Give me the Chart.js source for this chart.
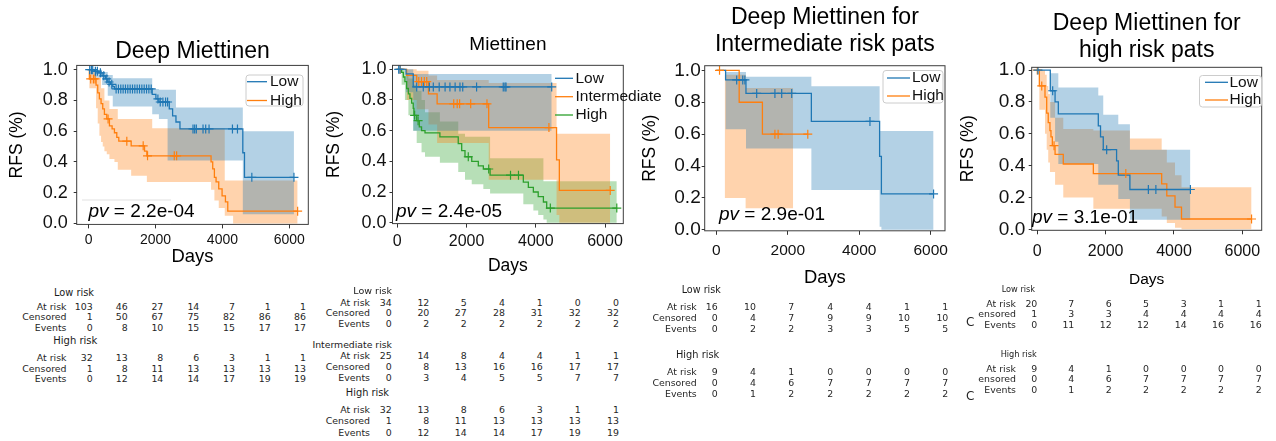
<!DOCTYPE html>
<html>
<head>
<meta charset="utf-8">
<title>RFS Kaplan-Meier panels</title>
<script src="https://cdn.jsdelivr.net/npm/chart.js@4.4.1/dist/chart.umd.min.js"></script>
<style>
  html, body { margin: 0; padding: 0; background: #fff; }
  #fig { position: relative; width: 1276px; height: 441px; overflow: hidden; background: #fff; }
  #fig canvas { position: absolute; top: 0; }
  .t { position: absolute; white-space: nowrap; line-height: 1; font-family: "DejaVu Sans", sans-serif; color: #262626; }
</style>
</head>
<body>
<div id="fig"></div>
<script>
// Four Kaplan-Meier panels (RFS) with at-risk tables underneath.

const SANS = '"Liberation Sans", Arial, Helvetica, sans-serif';
const C_BLUE = '#1f77b4', C_ORANGE = '#ff7f0e', C_GREEN = '#2ca02c';

// ---- labels ----
const panelTitles = [['Deep Miettinen'], ['Miettinen'], ['Deep Miettinen for', 'Intermediate risk pats'], ['Deep Miettinen for', 'high risk pats']];
const pvLabels = ['2.2e-04', '2.4e-05', '2.9e-01', '3.1e-01'];
const xTicks = [0, 2000, 4000, 6000];
const yTicks = [0, 0.2, 0.4, 0.6, 0.8, 1.0];
const rowLabels = ['At risk', 'Censored', 'Events'];

// ---- panel 1: Deep Miettinen ----
const p1LowT = [0, 170, 300, 400, 500, 570, 650, 720, 770, 1900, 2010, 2100, 2410, 2510, 2610, 2730, 4610, 4660, 6140];
const p1LowS = [1.0, 0.99, 0.98, 0.96, 0.94, 0.92, 0.905, 0.89, 0.875, 0.84, 0.81, 0.79, 0.745, 0.70, 0.66, 0.615, 0.46, 0.30, 0.30];
const p1LowCens = [30, 80, 120, 200, 260, 350, 450, 540, 610, 690, 820, 890, 960, 1030, 1100, 1170, 1240, 1310, 1380, 1450, 1520, 1590, 1660, 1730, 1800, 1870, 2070, 2140, 2220, 2300, 2360, 3120, 3170, 3220, 3420, 3500, 3600, 4300, 4450, 4880, 6140];
const p1LowCiT = [0, 170, 400, 570, 720, 1900, 2100, 2360, 2610, 4610, 6140];
const p1LowCiU = [1.0, 1.0, 0.985, 0.965, 0.945, 0.875, 0.87, 0.87, 0.755, 0.60, 0.60];
const p1LowCiL = [1.0, 0.95, 0.90, 0.83, 0.76, 0.71, 0.68, 0.41, 0.41, 0.06, 0.06];

const p1HighT = [0, 20, 220, 270, 320, 370, 420, 470, 540, 620, 700, 770, 840, 900, 1270, 1670, 1740, 3660, 3710, 3760, 3810, 3890, 3990, 4090, 4160, 6250];
const p1HighS = [1.0, 0.94, 0.90, 0.85, 0.81, 0.78, 0.745, 0.71, 0.68, 0.635, 0.615, 0.59, 0.56, 0.535, 0.505, 0.47, 0.44, 0.40, 0.355, 0.30, 0.27, 0.225, 0.18, 0.14, 0.08, 0.08];
const p1HighCens = [60, 140, 190, 580, 1140, 1630, 1760, 2560, 2630, 6250];
const p1HighCiT = [0, 20, 220, 270, 320, 370, 420, 470, 540, 620, 770, 870, 1270, 1740, 1900, 3660, 3760, 3890, 4070, 4320, 6250];
const p1HighCiU = [1.0, 1.0, 0.95, 0.95, 0.95, 0.88, 0.88, 0.80, 0.80, 0.745, 0.745, 0.68, 0.68, 0.68, 0.62, 0.62, 0.62, 0.62, 0.28, 0.28, 0.28];
const p1HighCiL = [1.0, 0.88, 0.75, 0.65, 0.57, 0.53, 0.50, 0.47, 0.45, 0.42, 0.40, 0.35, 0.31, 0.27, 0.27, 0.22, 0.15, 0.10, 0.05, 0.0, 0.0];

// ---- panel 2: Miettinen ----
const p2LowT = [0, 250, 460, 4460];
const p2LowS = [1.0, 0.97, 0.885, 0.885];
const p2LowCens = [40, 80, 560, 750, 925, 1040, 1210, 1380, 1520, 1670, 1810, 1890, 2290, 3060, 3110, 3140, 4460];
const p2LowCiT = [0, 250, 460, 4460];
const p2LowCiU = [1.0, 1.0, 0.97, 0.97];
const p2LowCiL = [1.0, 0.85, 0.60, 0.60];

const p2IntT = [0, 270, 560, 900, 1150, 2640, 4600, 4680, 6150];
const p2IntS = [1.0, 0.96, 0.92, 0.84, 0.775, 0.62, 0.41, 0.21, 0.21];
const p2IntCens = [80, 620, 700, 780, 850, 1630, 1730, 1800, 2120, 2590, 4380, 6150];
const p2IntCiT = [0, 270, 560, 900, 1150, 2640, 4600, 4680, 6150];
const p2IntCiU = [1.0, 1.0, 0.99, 0.96, 0.93, 0.91, 0.58, 0.58, 0.58];
const p2IntCiL = [1.0, 0.80, 0.74, 0.64, 0.52, 0.28, 0.05, 0.0, 0.0];

const p2HighT = [0, 125, 175, 220, 270, 320, 365, 415, 460, 480, 560, 635, 700, 800, 1230, 1760, 1860, 1955, 2150, 2340, 2485, 2680, 3640, 3785, 3930, 4070, 4220, 4315, 6340];
const p2HighS = [1.0, 0.98, 0.95, 0.92, 0.875, 0.84, 0.81, 0.78, 0.745, 0.70, 0.665, 0.625, 0.60, 0.585, 0.56, 0.515, 0.47, 0.43, 0.40, 0.37, 0.35, 0.31, 0.265, 0.23, 0.20, 0.17, 0.135, 0.095, 0.095];
const p2HighCens = [500, 600, 2050, 2640, 3270, 3500, 4420, 6340];
const p2HighCiT = [0, 125, 220, 320, 460, 560, 700, 800, 1230, 1760, 1955, 2150, 2485, 2680, 3640, 3930, 4070, 4220, 4315, 6340];
const p2HighCiU = [1.0, 1.0, 0.97, 0.94, 0.90, 0.86, 0.80, 0.72, 0.66, 0.58, 0.56, 0.56, 0.56, 0.42, 0.42, 0.42, 0.42, 0.27, 0.27, 0.27];
const p2HighCiL = [1.0, 0.90, 0.80, 0.70, 0.60, 0.52, 0.46, 0.43, 0.39, 0.33, 0.28, 0.25, 0.22, 0.19, 0.12, 0.08, 0.05, 0.02, 0.0, 0.0];

// ---- panel 3: intermediate risk patients ----
const p3LowT = [0, 260, 830, 2660, 4570, 4620, 6080];
const p3LowS = [1.0, 0.94, 0.855, 0.68, 0.46, 0.225, 0.225];
const p3LowCens = [570, 740, 800, 1130, 1640, 1830, 2110, 4300, 6080];
const p3LowCiT = [0, 260, 830, 2660, 4570, 4620, 6080];
const p3LowCiU = [1.0, 0.99, 0.96, 0.90, 0.62, 0.62, 0.62];
const p3LowCiL = [1.0, 0.63, 0.51, 0.25, 0.02, 0.0, 0.0];

const p3HighT = [0, 640, 1290, 2560];
const p3HighS = [1.0, 0.80, 0.60, 0.60];
const p3HighCens = [90, 1640, 1730, 2560];
const p3HighCiT = [0, 240, 820, 2150];
const p3HighCiU = [1.0, 0.973, 0.89, 0.89];
const p3HighCiL = [1.0, 0.20, 0.135, 0.135];

// ---- panel 4: high risk patients ----
const p4LowT = [0, 380, 520, 615, 1785, 1850, 1930, 2320, 2370, 2710, 4480];
const p4LowS = [1.0, 0.87, 0.80, 0.725, 0.65, 0.58, 0.50, 0.43, 0.34, 0.25, 0.25];
const p4LowCens = [20, 450, 2030, 3250, 3470, 4480];
const p4LowCiT = [0, 380, 520, 615, 1785, 1930, 2370, 2710, 4480];
const p4LowCiU = [1.0, 0.98, 0.98, 0.89, 0.84, 0.72, 0.66, 0.50, 0.50];
const p4LowCiL = [1.0, 0.70, 0.55, 0.41, 0.28, 0.28, 0.19, 0.06, 0.06];

const p4HighT = [0, 60, 225, 275, 320, 370, 400, 440, 520, 760, 1640, 3640, 3790, 4030, 4220, 6270];
const p4HighS = [1.0, 0.90, 0.83, 0.73, 0.67, 0.62, 0.58, 0.525, 0.47, 0.41, 0.35, 0.285, 0.21, 0.14, 0.065, 0.065];
const p4HighCens = [0, 130, 490, 2590, 6270];
const p4HighCiT = [0, 60, 225, 275, 320, 370, 520, 760, 1640, 2710, 3640, 3790, 4030, 4220, 6270];
const p4HighCiU = [1.0, 1.0, 0.97, 0.90, 0.85, 0.80, 0.70, 0.63, 0.62, 0.57, 0.50, 0.42, 0.34, 0.265, 0.265];
const p4HighCiL = [1.0, 0.75, 0.60, 0.50, 0.42, 0.36, 0.28, 0.20, 0.13, 0.13, 0.08, 0.04, 0.01, 0.0, 0.0];

// ---- at-risk tables ----
const p1LowAtRisk = [103, 46, 27, 14, 7, 1, 1], p1LowCensored = [1, 50, 67, 75, 82, 86, 86], p1LowEvents = [0, 8, 10, 15, 15, 17, 17];
const p1HighAtRisk = [32, 13, 8, 6, 3, 1, 1], p1HighCensored = [1, 8, 11, 13, 13, 13, 13], p1HighEvents = [0, 12, 14, 14, 17, 19, 19];
const p2LowAtRisk = [34, 12, 5, 4, 1, 0, 0], p2LowCensored = [0, 20, 27, 28, 31, 32, 32], p2LowEvents = [0, 2, 2, 2, 2, 2, 2];
const p2IntAtRisk = [25, 14, 8, 4, 4, 1, 1], p2IntCensored = [0, 8, 13, 16, 16, 17, 17], p2IntEvents = [0, 3, 4, 5, 5, 7, 7];
const p2HighAtRisk = [32, 13, 8, 6, 3, 1, 1], p2HighCensored = [1, 8, 11, 13, 13, 13, 13], p2HighEvents = [0, 12, 14, 14, 17, 19, 19];
const p3LowAtRisk = [16, 10, 7, 4, 4, 1, 1], p3LowCensored = [0, 4, 7, 9, 9, 10, 10], p3LowEvents = [0, 2, 2, 3, 3, 5, 5];
const p3HighAtRisk = [9, 4, 1, 0, 0, 0, 0], p3HighCensored = [0, 4, 6, 7, 7, 7, 7], p3HighEvents = [0, 1, 2, 2, 2, 2, 2];
const p4LowAtRisk = [20, 7, 6, 5, 3, 1, 1], p4LowCensored = [1, 3, 3, 4, 4, 4, 4], p4LowEvents = [0, 11, 12, 12, 14, 16, 16];
const p4HighAtRisk = [9, 4, 1, 0, 0, 0, 0], p4HighCensored = [0, 4, 6, 7, 7, 7, 7], p4HighEvents = [0, 1, 2, 2, 2, 2, 2];

// ---- helpers ----
const fig = document.getElementById('fig');
function km(T, S) { return T.map((t, i) => ({ x: t, y: S[i] })); }
function survAt(T, S, t) { let v = S[0]; T.forEach((tt, i) => { if (tt <= t) v = S[i]; }); return v; }
function alpha(hex, a) { const n = parseInt(hex.slice(1), 16); return `rgba(${n >> 16},${(n >> 8) & 255},${n & 255},${a})`; }

function buildDatasets(groups) {
  const marks = [], lines = [], bands = [];
  groups.forEach(g => {
    marks.push({ data: g.cens.map(t => ({ x: t, y: survAt(g.t, g.s, t) })), showLine: false,
      pointStyle: 'cross', pointRadius: 4.5, pointBorderColor: g.color, borderColor: g.color, pointBorderWidth: 1.2 });
    lines.push({ data: km(g.t, g.s), stepped: 'before', borderColor: g.color, borderWidth: 1.3, pointRadius: 0, fill: false });
    bands.push({ data: km(g.ciT, g.ciU), stepped: 'before', borderColor: 'rgba(0,0,0,0)', borderWidth: 0, pointRadius: 0,
      fill: '+1', backgroundColor: alpha(g.color, 0.34) });
    bands.push({ data: km(g.ciT, g.ciL), stepped: 'before', borderColor: 'rgba(0,0,0,0)', borderWidth: 0, pointRadius: 0, fill: false });
  });
  return [...marks, ...lines, ...bands];
}

// frame, legend and p-value text
const decor = {
  id: 'decor',
  afterDatasetsDraw(chart, args, o) {
    const { ctx, chartArea: a } = chart;
    const ox = o.ox;
    ctx.save();
    ctx.strokeStyle = '#3c3c3c'; ctx.lineWidth = 1;
    ctx.strokeRect(a.left, a.top, a.right - a.left, a.bottom - a.top);

    const L = o.legend;
    if (L.frame) {
      const f = L.frame;
      ctx.beginPath();
      ctx.roundRect(f.x - ox, f.y, f.w, f.h, 3);
      ctx.fillStyle = 'rgba(255,255,255,0.8)'; ctx.fill();
      ctx.strokeStyle = '#cccccc'; ctx.stroke();
    }
    ctx.font = `${L.size}px ${SANS}`; ctx.textBaseline = 'middle'; ctx.textAlign = 'left';
    o.groups.forEach((g, k) => {
      const y = L.rows[k];
      ctx.strokeStyle = g.color; ctx.lineWidth = 1.3;
      ctx.beginPath(); ctx.moveTo(L.x1 - ox, y); ctx.lineTo(L.x2 - ox, y); ctx.stroke();
      ctx.fillStyle = '#111'; ctx.fillText(g.name, L.tx - ox, y);
    });

    const P = o.pv;
    if (P.box) {
      ctx.fillStyle = 'rgba(255,255,255,0.8)'; ctx.strokeStyle = 'rgba(0,0,0,0.12)'; ctx.lineWidth = 1;
      ctx.fillRect(P.box.x - ox, P.box.y, P.box.w, P.box.h);
      ctx.beginPath(); ctx.moveTo(P.box.x - ox, P.box.y + 0.5); ctx.lineTo(P.box.x + P.box.w - ox, P.box.y + 0.5); ctx.stroke();
    }
    ctx.fillStyle = '#000';
    ctx.font = `italic ${P.size}px ${SANS}`;
    ctx.fillText('pv', P.x - ox, P.y);
    const w = ctx.measureText('pv').width;
    ctx.font = `${P.size}px ${SANS}`;
    ctx.fillText(' = ' + o.text, P.x - ox + w, P.y);
    ctx.restore();
  }
};

// ---- layout of the four panels ----
const panels = [
  { left: 0, w: 384, h: 270, padTop: 38.5, titleSize: 23, titleGap: 0, padRight: 75.7,
    xmin: -359, xmax: 6569, ymax: 1.028, yw: 76.7, xh: 45.6,
    xTickSize: 14, xTickPad: 3, yTickSize: 18, yTickPad: 6, xTitleSize: 18.4, xTitlePad: 2.2, yTitlePad: 7,
    groups: [
      { name: 'Low', color: C_BLUE, t: p1LowT, s: p1LowS, cens: p1LowCens, ciT: p1LowCiT, ciU: p1LowCiU, ciL: p1LowCiL },
      { name: 'High', color: C_ORANGE, t: p1HighT, s: p1HighS, cens: p1HighCens, ciT: p1HighCiT, ciU: p1HighCiU, ciL: p1HighCiL }],
    legend: { frame: { x: 246, y: 75, w: 57, h: 31 }, x1: 247, x2: 267, tx: 270, rows: [81.7, 100.5], size: 15.5 },
    pv: { x: 88.5, y: 211.5, size: 19, box: { x: 82, y: 199.5, w: 89, h: 24 } } },
  { left: 320, w: 358, h: 280, padTop: 33.9, titleSize: 19, titleGap: 9.2, padRight: 54.7,
    xmin: -139, xmax: 6528, ymax: 1.026, yw: 72.5, xh: 56.4,
    xTickSize: 16, xTickPad: 4, yTickSize: 18, yTickPad: 3, xTitleSize: 17.5, xTitlePad: 3.2, yTitlePad: 3.2,
    groups: [
      { name: 'Low', color: C_BLUE, t: p2LowT, s: p2LowS, cens: p2LowCens, ciT: p2LowCiT, ciU: p2LowCiU, ciL: p2LowCiL },
      { name: 'Intermediate', color: C_ORANGE, t: p2IntT, s: p2IntS, cens: p2IntCens, ciT: p2IntCiT, ciU: p2IntCiU, ciL: p2IntCiL },
      { name: 'High', color: C_GREEN, t: p2HighT, s: p2HighS, cens: p2HighCens, ciT: p2HighCiT, ciU: p2HighCiU, ciL: p2HighCiL }],
    legend: { frame: null, x1: 555, x2: 573, tx: 575.5, rows: [78.3, 96.7, 115], size: 15.5 },
    pv: { x: 396, y: 212, size: 19 } },
  { left: 638, w: 388, h: 292, padTop: 4.55, titleSize: 23, titleGap: 7.35, padRight: 81,
    xmin: -325, xmax: 6400, ymax: 1.029, yw: 66.7, xh: 61.2,
    xTickSize: 15.5, xTickPad: 7, yTickSize: 19, yTickPad: 1, xTitleSize: 18.4, xTitlePad: 3.2, yTitlePad: 1.2,
    groups: [
      { name: 'Low', color: C_BLUE, t: p3LowT, s: p3LowS, cens: p3LowCens, ciT: p3LowCiT, ciU: p3LowCiU, ciL: p3LowCiL },
      { name: 'High', color: C_ORANGE, t: p3HighT, s: p3HighS, cens: p3HighCens, ciT: p3HighCiT, ciU: p3HighCiU, ciL: p3HighCiL }],
    legend: { frame: { x: 883, y: 70.5, w: 60, h: 32.5 }, x1: 887, x2: 910, tx: 912, rows: [78, 96], size: 15.5 },
    pv: { x: 719, y: 214.5, size: 19 } },
  { left: 950, w: 326, h: 292, padTop: 9.85, titleSize: 23, titleGap: 3.65, padRight: 14.3,
    xmin: -164, xmax: 6567, ymax: 1.017, yw: 81.7, xh: 61.7,
    xTickSize: 16, xTickPad: 7.4, yTickSize: 19, yTickPad: 3.5, xTitleSize: 15.5, xTitlePad: 3.2, yTitlePad: 7.7,
    groups: [
      { name: 'Low', color: C_BLUE, t: p4LowT, s: p4LowS, cens: p4LowCens, ciT: p4LowCiT, ciU: p4LowCiU, ciL: p4LowCiL },
      { name: 'High', color: C_ORANGE, t: p4HighT, s: p4HighS, cens: p4HighCens, ciT: p4HighCiT, ciU: p4HighCiU, ciL: p4HighCiL }],
    legend: { frame: { x: 1199.5, y: 75.5, w: 62, h: 31.5 }, x1: 1205, x2: 1228, tx: 1229.5, rows: [82.3, 100], size: 15.5 },
    pv: { x: 1032, y: 218, size: 19 } }
];

function makePanel(p, i) {
  const cv = document.createElement('canvas');
  cv.width = p.w; cv.height = p.h;
  cv.style.left = p.left + 'px';
  cv.style.width = p.w + 'px'; cv.style.height = p.h + 'px';
  fig.appendChild(cv);
  const tickGrid = { drawOnChartArea: false, tickLength: 4, color: '#333' };
  new Chart(cv, {
    type: 'line',
    data: { datasets: buildDatasets(p.groups) },
    options: {
      responsive: false, animation: false, events: [],
      layout: { padding: { top: p.padTop, right: p.padRight, left: 0, bottom: 0 } },
      plugins: {
        legend: { display: false },
        tooltip: { enabled: false },
        title: { display: true, text: panelTitles[i], fullSize: false, color: '#000',
          font: { family: SANS, size: p.titleSize, weight: 'normal', lineHeight: 1.17 },
          padding: { top: 0, bottom: p.titleGap } },
        decor: { ox: p.left, groups: p.groups, legend: p.legend, pv: p.pv, text: pvLabels[i] }
      },
      scales: {
        x: {
          type: 'linear', min: p.xmin, max: p.xmax,
          afterFit: s => { s.height = p.xh; },
          afterBuildTicks: s => { s.ticks = xTicks.map(v => ({ value: v })); },
          ticks: { callback: v => String(v), color: '#111', font: { family: SANS, size: p.xTickSize },
            padding: p.xTickPad, maxRotation: 0, autoSkip: false },
          grid: tickGrid, border: { display: false },
          title: { display: true, text: 'Days', color: '#000', font: { family: SANS, size: p.xTitleSize },
            padding: { top: 0, bottom: p.xTitlePad } }
        },
        y: {
          type: 'linear', min: -0.006, max: p.ymax,
          afterFit: s => { s.width = p.yw; },
          afterBuildTicks: s => { s.ticks = yTicks.map(v => ({ value: v })); },
          ticks: { callback: v => v.toFixed(1), color: '#111', font: { family: SANS, size: p.yTickSize },
            padding: p.yTickPad, autoSkip: false },
          grid: { drawOnChartArea: false, tickLength: 3, color: '#333' }, border: { display: false },
          title: { display: true, text: 'RFS (%)', color: '#000', font: { family: SANS, size: 17.5 },
            padding: { top: p.yTitlePad, bottom: 0 } }
        }
      }
    },
    plugins: [decor]
  });
}
panels.forEach(makePanel);

// ---- at-risk tables (plain HTML text) ----
function addText(txt, x, y, size, align, opts) {
  const d = document.createElement('div');
  d.className = 't';
  d.textContent = txt;
  d.style.fontSize = size + 'px';
  d.style.top = (y - size * 0.5) + 'px';
  if (align === 'right') d.style.right = (1276 - x) + 'px'; else d.style.left = x + 'px';
  if (opts && opts.color) d.style.color = opts.color;
  fig.appendChild(d);
}

const tables = [
  { labelRight: 66.5, cols: [92.7, 127.7, 163.3, 199.3, 235, 270.7, 306], labels: rowLabels,
    groups: [
      { name: 'Low risk', nx: 54, ny: 292.7, nsize: 9.8, rows: [p1LowAtRisk, p1LowCensored, p1LowEvents], ys: [306.7, 316.7, 327.3] },
      { name: 'High risk', nx: 53.3, ny: 341, nsize: 10, rows: [p1HighAtRisk, p1HighCensored, p1HighEvents], ys: [357.7, 368.3, 378.3] }] },
  { labelRight: 370, cols: [391.7, 429.3, 466.7, 505, 542.7, 580.7, 619], labels: rowLabels,
    groups: [
      { name: 'Low risk', nr: 392, ny: 290.7, nsize: 9.5, rows: [p2LowAtRisk, p2LowCensored, p2LowEvents], ys: [302.3, 312.7, 323.3] },
      { name: 'Intermediate risk', nr: 392, ny: 345, nsize: 9.3, rows: [p2IntAtRisk, p2IntCensored, p2IntEvents], ys: [356, 366.7, 377.7] },
      { name: 'High risk', nr: 389, ny: 393.3, nsize: 9.8, rows: [p2HighAtRisk, p2HighCensored, p2HighEvents], ys: [410, 421, 432.3] }] },
  { labelRight: 696.7, cols: [717.7, 756, 794.3, 833.3, 871.7, 910, 948.3], labels: rowLabels,
    groups: [
      { name: 'Low risk', nx: 681.7, ny: 289.3, nsize: 9.6, rows: [p3LowAtRisk, p3LowCensored, p3LowEvents], ys: [306.7, 317.3, 328.3] },
      { name: 'High risk', nx: 676, ny: 355, nsize: 9.8, rows: [p3HighAtRisk, p3HighCensored, p3HighEvents], ys: [371.7, 382.3, 393.3] }] },
  { labelRight: 1016, cols: [1037.3, 1074.3, 1111.7, 1149, 1186.7, 1224, 1261.7], labels: ['At risk', 'ensored', 'Events'],
    extraC: [[966, 321.7], [966, 396]],
    groups: [
      { name: 'Low risk', nx: 1001.7, ny: 289.3, nsize: 8.2, rows: [p4LowAtRisk, p4LowCensored, p4LowEvents], ys: [303.3, 314, 324.3] },
      { name: 'High risk', nx: 1000.7, ny: 354, nsize: 8.2, rows: [p4HighAtRisk, p4HighCensored, p4HighEvents], ys: [368.3, 379, 389.3] }] }
];

tables.forEach(tb => {
  tb.groups.forEach(g => {
    if (g.nr !== undefined) addText(g.name, g.nr, g.ny, g.nsize, 'right', { color: '#1a1a1a' });
    else addText(g.name, g.nx, g.ny, g.nsize, 'left', { color: '#1a1a1a' });
    g.rows.forEach((vals, r) => {
      addText(tb.labels[r], tb.labelRight, g.ys[r], 9.4, 'right');
      vals.forEach((v, c) => addText(String(v), tb.cols[c], g.ys[r], 9.4, 'right'));
    });
  });
  (tb.extraC || []).forEach(([x, y]) => addText('C', x, y, 12, 'left'));
});
</script>
</body>
</html>
